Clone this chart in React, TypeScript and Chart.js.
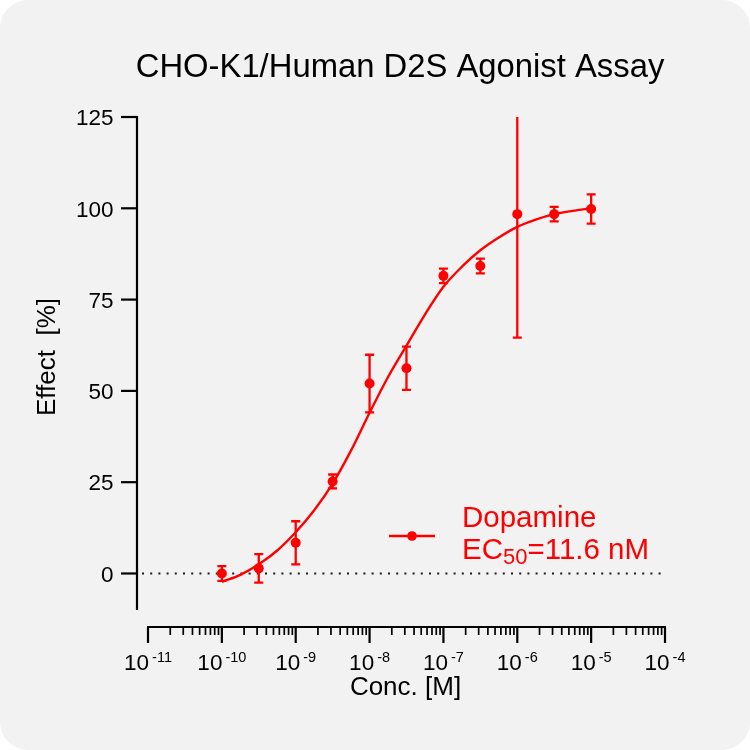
import { useEffect, useRef } from 'react';
import { Chart, registerables } from 'chart.js';

Chart.register(...registerables);

// measured concentrations [M] and mean effect [%] with error
const concentrations = [1e-10, 3.16e-10, 1e-9, 3.16e-9, 1e-8, 3.16e-8, 1e-7, 3.16e-7, 1e-6, 3.16e-6, 1e-5];
const effectMean = [0, 1.4, 8.4, 25.2, 52.0, 56.2, 81.5, 84.2, 98.4, 98.4, 99.8];
const effectError = [2.0, 3.9, 5.9, 1.9, 7.9, 5.9, 2.0, 2.0, 33.8, 2.0, 4.0];

// fitted dose-response curve
const fitConcentrations = [
  1e-10, 1.78e-10, 3.16e-10, 5.62e-10, 1e-9, 1.78e-9, 3.16e-9, 5.62e-9, 1e-8, 1.78e-8, 3.16e-8,
  5.62e-8, 1e-7, 1.78e-7, 3.16e-7, 5.62e-7, 1e-6, 1.78e-6, 3.16e-6, 5.62e-6, 1e-5,
];
const fitEffect = [
  -2.3, -0.4, 2.5, 6.3, 11.3, 17.3, 24.6, 33.7, 44.0, 53.8, 62.4,
  70.9, 78.5, 84.0, 88.5, 92.0, 94.9, 96.9, 98.4, 99.3, 100.0,
];

// axes
const xTickExponents = [-11, -10, -9, -8, -7, -6, -5, -4];
const xMinorSteps = [2, 3, 4, 5, 6, 7, 8, 9];
const yTickValues = [0, 25, 50, 75, 100, 125];

const FONT = '"Liberation Sans", Arial, Helvetica, sans-serif';
const RED = '#ff0000';
const INK = '#000000';

const prismAxes = {
  id: 'prismAxes',
  beforeDatasetsDraw(chart: any) {
    const { ctx, chartArea, scales } = chart;
    const x = scales.x;
    const y = scales.y;

    // dotted baseline at 0 %
    const y0 = y.getPixelForValue(0);
    ctx.save();
    ctx.strokeStyle = '#1a1a1a';
    ctx.lineWidth = 2;
    ctx.setLineDash([2, 6.2]);
    ctx.beginPath();
    ctx.moveTo(chartArea.left - 6, y0);
    ctx.lineTo(chartArea.right - 3, y0);
    ctx.stroke();
    ctx.restore();

    // error bars
    ctx.save();
    ctx.beginPath();
    ctx.rect(chartArea.left - 10, chartArea.top, chartArea.width + 20, chartArea.height);
    ctx.clip();
    ctx.strokeStyle = RED;
    ctx.lineWidth = 2.3;
    concentrations.forEach((c, i) => {
      const px = x.getPixelForValue(c);
      const top = y.getPixelForValue(effectMean[i] + effectError[i]);
      const bot = y.getPixelForValue(effectMean[i] - effectError[i]);
      ctx.beginPath();
      ctx.moveTo(px, top);
      ctx.lineTo(px, bot);
      ctx.moveTo(px - 4.5, top);
      ctx.lineTo(px + 4.5, top);
      ctx.moveTo(px - 4.5, bot);
      ctx.lineTo(px + 4.5, bot);
      ctx.stroke();
    });
    ctx.restore();
  },
  afterDraw(chart: any) {
    const { ctx, chartArea, scales } = chart;
    const x = scales.x;
    const y = scales.y;

    ctx.save();
    ctx.strokeStyle = INK;
    ctx.fillStyle = INK;
    ctx.lineWidth = 2.2;
    ctx.lineCap = 'butt';

    // y axis (offset left of the plot)
    const yAxisX = chartArea.left - 11;
    ctx.beginPath();
    ctx.moveTo(yAxisX, y.getPixelForValue(125) - 1);
    ctx.lineTo(yAxisX, y.getPixelForValue(-10));
    ctx.stroke();
    ctx.font = `22.5px ${FONT}`;
    ctx.textAlign = 'right';
    ctx.textBaseline = 'alphabetic';
    yTickValues.forEach((v) => {
      const py = y.getPixelForValue(v);
      ctx.beginPath();
      ctx.moveTo(yAxisX - 16, py);
      ctx.lineTo(yAxisX, py);
      ctx.stroke();
      ctx.fillText(String(v), yAxisX - 23.5, py + 8.3);
    });

    // x axis (offset below the plot)
    const xAxisY = chartArea.bottom + 17;
    ctx.beginPath();
    ctx.moveTo(x.getPixelForValue(1e-11) - 1, xAxisY);
    ctx.lineTo(x.getPixelForValue(1e-4) + 1, xAxisY);
    ctx.stroke();
    xTickExponents.forEach((e, i) => {
      const px = x.getPixelForValue(Math.pow(10, e));
      ctx.lineWidth = 2.2;
      ctx.beginPath();
      ctx.moveTo(px, xAxisY);
      ctx.lineTo(px, xAxisY + 16);
      ctx.stroke();
      if (i < xTickExponents.length - 1) {
        ctx.lineWidth = 1.7;
        xMinorSteps.forEach((m) => {
          const mx = x.getPixelForValue(m * Math.pow(10, e));
          ctx.beginPath();
          ctx.moveTo(mx, xAxisY);
          ctx.lineTo(mx, xAxisY + 8);
          ctx.stroke();
        });
      }
      // label 10^e
      ctx.font = `22.5px ${FONT}`;
      const base = '10';
      const baseW = ctx.measureText(base).width;
      ctx.font = `14.5px ${FONT}`;
      const sup = String(e);
      const supW = ctx.measureText(sup).width;
      const startX = px - (baseW + 3 + supW) / 2;
      ctx.textAlign = 'left';
      ctx.font = `22.5px ${FONT}`;
      ctx.fillText(base, startX, xAxisY + 42.5);
      ctx.font = `14.5px ${FONT}`;
      ctx.fillText(sup, startX + baseW + 3, xAxisY + 35);
    });

    // axis titles
    ctx.font = `26px ${FONT}`;
    ctx.textAlign = 'center';
    ctx.fillText('Conc. [M]', (chartArea.left + chartArea.right) / 2 - 1, 695);
    ctx.save();
    ctx.translate(55, 357);
    ctx.rotate(-Math.PI / 2);
    ctx.fillText('Effect  [%]', 0, 0);
    ctx.restore();

    // title
    ctx.font = `32.8px ${FONT}`;
    ctx.textAlign = 'center';
    ctx.fillText('CHO-K1/Human D2S Agonist Assay', 400, 77);

    // legend
    ctx.strokeStyle = RED;
    ctx.fillStyle = RED;
    ctx.lineWidth = 2.3;
    ctx.beginPath();
    ctx.moveTo(389, 536);
    ctx.lineTo(435, 536);
    ctx.stroke();
    ctx.beginPath();
    ctx.arc(412, 536, 4.8, 0, Math.PI * 2);
    ctx.fill();
    ctx.textAlign = 'left';
    ctx.font = `29.5px ${FONT}`;
    ctx.fillText('Dopamine', 462, 527);
    ctx.fillText('EC', 462, 559);
    const ecW = ctx.measureText('EC').width;
    ctx.font = `22px ${FONT}`;
    ctx.fillText('50', 462 + ecW, 563.5);
    const subW = ctx.measureText('50').width;
    ctx.font = `29.5px ${FONT}`;
    ctx.fillText('=11.6 nM', 462 + ecW + subW, 559);

    ctx.restore();
  },
};

export default function App() {
  const canvasRef = useRef<HTMLCanvasElement>(null);
  const chartRef = useRef<Chart | null>(null);

  useEffect(() => {
    if (!canvasRef.current) return;
    if (chartRef.current) chartRef.current.destroy();

    chartRef.current = new Chart(canvasRef.current, {
      type: 'scatter',
      data: {
        datasets: [
          {
            type: 'scatter',
            label: 'Dopamine',
            data: concentrations.map((c, i) => ({ x: c, y: effectMean[i] })),
            backgroundColor: RED,
            borderColor: RED,
            pointRadius: 5,
            pointHoverRadius: 5,
            borderWidth: 0,
            order: 0,
          },
          {
            type: 'line',
            label: 'Fit',
            data: fitConcentrations.map((c, i) => ({ x: c, y: fitEffect[i] })),
            borderColor: RED,
            borderWidth: 2.4,
            pointRadius: 0,
            fill: false,
            cubicInterpolationMode: 'monotone',
            order: 1,
          },
        ],
      },
      options: {
        responsive: false,
        animation: false,
        devicePixelRatio: 1,
        layout: { padding: { left: 148, right: 85, top: 117, bottom: 140 } },
        scales: {
          x: { type: 'logarithmic', min: 1e-11, max: 1e-4, display: false },
          y: { type: 'linear', min: -10, max: 125, display: false },
        },
        plugins: {
          legend: { display: false },
          title: { display: false },
          tooltip: { enabled: false },
        },
      },
      plugins: [prismAxes],
    });

    return () => { chartRef.current?.destroy(); chartRef.current = null; };
  }, []);

  return (
    <div style={{ position: 'absolute', left: 0, top: 0, width: 750, height: 750, background: '#f2f2f2', borderRadius: 28, overflow: 'hidden' }}>
      <canvas ref={canvasRef} width={750} height={750} style={{ display: 'block' }} />
    </div>
  );
}
